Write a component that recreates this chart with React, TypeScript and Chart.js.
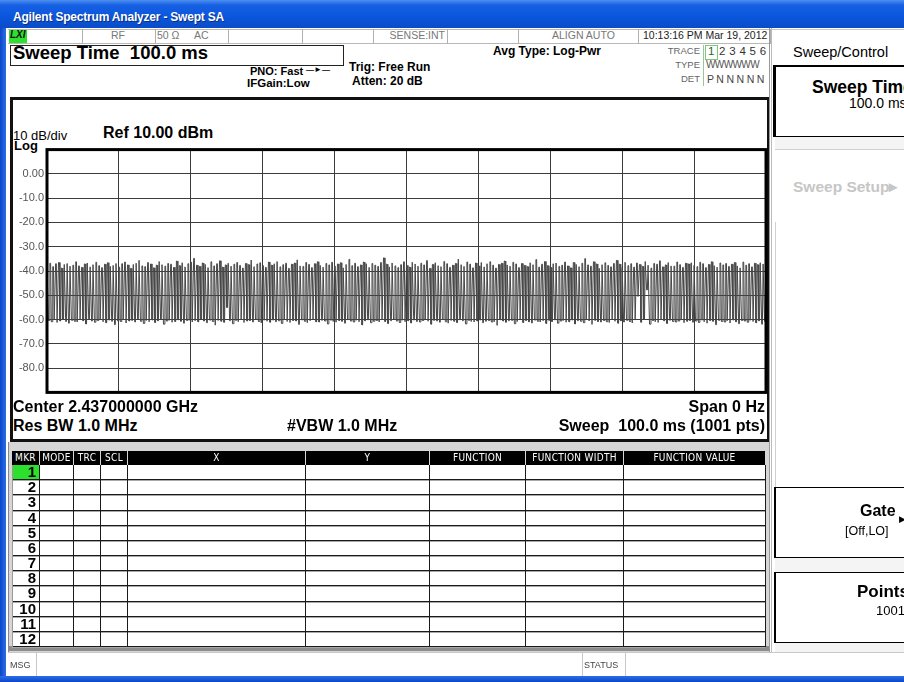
import React, { useEffect, useRef } from 'react';
import { Chart, registerables } from 'chart.js';

Chart.register(...registerables);

// ---------- data ----------
const REF_LEVEL = 10; // dBm, top of graticule
const DB_PER_DIV = 10;
const DIVISIONS = 10;
const SWEEP_POINTS = 1001;

// top of each burst, dBm (about 250 bursts across the 100 ms sweep)
const burstPeaks = [
  -37.5,-36.8,-38.2,-37.0,-36.5,-38.8,-37.3,-36.9,-38.0,-37.6,-36.2,-37.9,-38.5,-37.1,-36.7,-38.3,-37.4,-36.4,-37.8,-38.6,-37.2,-36.6,-38.1,-37.7,-36.9,
  -38.4,-37.0,-36.3,-37.5,-38.9,-37.3,-36.8,-35.6,-37.9,-38.2,-36.5,-37.1,-38.7,-37.6,-36.1,-37.4,-38.0,-36.9,-37.2,-38.5,-35.9,-37.8,-36.6,-38.3,-37.0,
  -36.4,-34.8,-37.6,-38.1,-36.7,-37.3,-38.6,-36.2,-37.9,-37.0,-35.8,-38.4,-37.5,-36.8,-38.0,-37.2,-36.5,-37.7,-38.8,-36.9,-37.4,-35.5,-38.2,-37.1,-36.6,
  -37.8,-38.5,-36.3,-37.6,-37.0,-36.1,-38.3,-37.4,-36.8,-38.9,-37.2,-36.7,-35.4,-37.9,-38.1,-36.5,-37.3,-38.6,-37.0,-36.2,-37.7,-38.4,-36.9,-37.5,-36.4,
  -38.0,-37.1,-36.6,-38.7,-37.3,-35.2,-37.8,-36.8,-38.2,-37.5,-36.3,-37.0,-38.5,-36.9,-37.6,-38.1,-36.5,-34.6,-37.2,-38.3,-36.7,-37.9,-38.6,-37.4,-36.2,
  -37.7,-38.4,-36.4,-37.1,-38.0,-36.8,-37.5,-35.7,-38.9,-37.3,-36.6,-37.8,-38.2,-36.1,-37.0,-38.5,-37.6,-36.9,-35.1,-37.4,-38.1,-36.3,-37.2,-38.7,-36.7,
  -37.9,-36.5,-38.3,-37.0,-36.2,-37.6,-38.8,-37.3,-36.8,-35.9,-37.5,-38.0,-36.4,-37.1,-38.6,-36.9,-37.7,-38.2,-36.6,-37.4,-35.3,-38.4,-37.2,-36.1,-37.8,
  -38.5,-37.0,-36.7,-38.1,-37.6,-36.3,-37.9,-38.7,-36.5,-37.3,-38.2,-36.8,-34.9,-37.5,-38.0,-36.2,-37.1,-38.9,-37.4,-36.6,-37.7,-38.3,-36.9,-35.6,-37.2,
  -38.6,-36.4,-37.8,-37.0,-38.4,-36.7,-37.3,-38.1,-36.1,-37.6,-38.8,-36.9,-37.2,-35.8,-38.3,-37.5,-36.5,-37.9,-38.0,-36.3,-37.4,-38.5,-36.8,-37.1,-36.6,
  -37.7,-38.2,-36.4,-37.0,-38.6,-37.3,-36.2,-37.8,-38.4,-36.7,-37.5,-36.9,-38.1,-37.2,-36.5,-37.9,-38.7,-36.3,-37.6,-37.0,-38.3,-36.8,-37.4,-36.6,-37.1,
];

// floor between bursts, dBm
const gapFloors = [
  -60.4,-60.9,-60.1,-61.2,-60.6,-59.9,-60.8,-61.5,-60.3,-60.7,-61.0,-60.2,-60.5,-61.8,-60.0,-60.6,-61.1,-60.4,-59.8,-60.9,-61.3,-60.2,-60.7,-62.1,-60.5,
  -60.8,-60.1,-61.4,-60.6,-60.3,-61.0,-59.9,-60.7,-61.6,-60.4,-60.9,-60.2,-61.2,-60.5,-60.0,-61.9,-60.6,-60.3,-61.1,-60.8,-60.1,-60.7,-61.5,-60.4,-60.2,
  -61.0,-60.5,-60.9,-59.8,-60.6,-61.3,-60.2,-60.8,-62.3,-60.4,-60.7,-61.1,-55.0,-60.5,-61.7,-60.3,-60.9,-60.1,-61.2,-60.6,-60.4,-61.0,-59.9,-60.8,-61.4,
  -60.3,-60.7,-61.1,-60.2,-60.9,-60.5,-61.6,-60.0,-60.8,-61.2,-60.4,-60.6,-62.0,-60.1,-60.7,-61.3,-60.5,-59.8,-60.9,-61.0,-60.3,-60.6,-61.8,-60.2,-60.8,
  -61.1,-60.4,-60.7,-61.5,-60.0,-60.6,-61.0,-60.3,-60.9,-62.2,-60.5,-60.1,-61.3,-60.7,-60.4,-61.0,-60.2,-60.8,-61.6,-60.5,-59.9,-60.6,-61.2,-60.3,-60.9,
  -60.5,-61.4,-60.2,-60.8,-61.0,-60.4,-59.8,-60.7,-61.9,-60.3,-60.6,-61.1,-60.0,-60.9,-61.5,-60.4,-60.7,-61.2,-60.1,-60.5,-61.8,-60.3,-60.8,-61.0,-60.6,
  -60.2,-61.3,-60.7,-60.4,-61.0,-60.9,-62.4,-60.1,-60.6,-61.1,-60.5,-60.3,-61.7,-60.8,-60.0,-61.2,-60.4,-60.9,-61.4,-60.2,-60.7,-61.0,-60.5,-61.6,-60.3,
  -60.8,-60.1,-61.5,-60.6,-60.4,-61.1,-60.9,-60.2,-61.8,-60.5,-60.7,-61.3,-60.0,-60.6,-62.0,-60.3,-60.8,-61.0,-60.4,-60.9,-61.2,-60.1,-60.7,-61.5,-60.5,
  -61.0,-60.3,-60.8,-61.4,-60.2,-50.5,-61.1,-59.9,-47.8,-61.9,-60.4,-60.9,-61.2,-60.1,-60.5,-61.6,-60.3,-60.8,-61.0,-60.6,-60.2,-61.3,-60.7,-60.4,-61.1,
  -60.6,-61.2,-60.1,-60.9,-61.5,-60.4,-60.7,-62.1,-60.3,-60.8,-61.0,-60.5,-61.4,-60.2,-60.9,-61.7,-60.4,-60.6,-61.1,-60.3,-60.8,-61.3,-60.5,-61.9,-60.7,
];

// y-axis labels from the top graticule line (+10 dBm) down to the bottom (-90 dBm)
const yTickLabels = ['', '0.00', '-10.0', '-20.0', '-30.0', '-40.0', '-50.0', '-60.0', '-70.0', '-80.0', ''];

const markerColumns = ['MKR', 'MODE', 'TRC', 'SCL', 'X', 'Y', 'FUNCTION', 'FUNCTION WIDTH', 'FUNCTION VALUE'];
const markerNumbers = [1, 2, 3, 4, 5, 6, 7, 8, 9, 10, 11, 12];
const statusCells = ['', 'RF', '50 Ω     AC', '', '', 'SENSE:INT', '', 'ALIGN AUTO', '10:13:16 PM Mar 19, 2012'];

// ---------- layout constants ----------
const colEdges = [12, 39, 73, 100, 127, 305, 429, 525, 623, 765];
const stripEdges = [8, 82, 155, 228, 302, 373, 447, 518, 638, 770];

const FONT = '"Liberation Sans", Arial, sans-serif';
const NARROW = '"Liberation Sans Narrow", "DejaVu Sans Condensed", "Liberation Sans", sans-serif';

function buildTrace() {
  const pts: { x: number; y: number }[] = [];
  for (let i = 0; i < burstPeaks.length; i++) {
    const base = i * 4;
    pts.push({ x: base, y: burstPeaks[i] });
    pts.push({ x: base + 1, y: burstPeaks[i] });
    pts.push({ x: base + 2, y: gapFloors[i] });
    pts.push({ x: base + 3, y: gapFloors[i] });
  }
  pts.push({ x: SWEEP_POINTS - 1, y: gapFloors[gapFloors.length - 1] });
  return pts;
}

function T(props: { x: number; y: number; s?: number; b?: boolean; c?: string; f?: string; children: React.ReactNode; st?: React.CSSProperties }) {
  const s = props.s ?? 12;
  return (
    <div
      style={{
        position: 'absolute',
        left: props.x,
        top: props.y - s * 0.58,
        fontSize: s,
        lineHeight: `${s}px`,
        fontWeight: props.b ? 'bold' : 'normal',
        color: props.c ?? '#000',
        fontFamily: props.f ?? FONT,
        whiteSpace: 'pre',
        ...props.st,
      }}
    >
      {props.children}
    </div>
  );
}

function TR(props: { r: number; y: number; s?: number; b?: boolean; c?: string; children: React.ReactNode }) {
  const s = props.s ?? 12;
  return (
    <div
      style={{
        position: 'absolute',
        right: 904 - props.r,
        top: props.y - s * 0.58,
        fontSize: s,
        lineHeight: `${s}px`,
        fontWeight: props.b ? 'bold' : 'normal',
        color: props.c ?? '#000',
        fontFamily: FONT,
        whiteSpace: 'pre',
      }}
    >
      {props.children}
    </div>
  );
}

function Box(props: { x: number; y: number; w: number; h: number; st?: React.CSSProperties; children?: React.ReactNode }) {
  return (
    <div style={{ position: 'absolute', left: props.x, top: props.y, width: props.w, height: props.h, boxSizing: 'border-box', ...props.st }}>
      {props.children}
    </div>
  );
}

function TraceChart() {
  const ref = useRef<HTMLCanvasElement | null>(null);
  useEffect(() => {
    if (!ref.current) return;
    const framePlugin = {
      id: 'frame',
      afterDraw(chart: any) {
        const { ctx, chartArea } = chart;
        ctx.save();
        ctx.strokeStyle = '#000';
        ctx.lineWidth = 3;
        ctx.strokeRect(chartArea.left, chartArea.top, chartArea.right - chartArea.left, chartArea.bottom - chartArea.top);
        ctx.restore();
      },
    };
    const chart = new Chart(ref.current, {
      type: 'line',
      data: {
        datasets: [
          {
            data: buildTrace(),
            borderColor: '#474747',
            borderWidth: 1,
            pointRadius: 0,
            tension: 0,
            fill: false,
          },
        ],
      },
      options: {
        animation: false,
        responsive: false,
        events: [],
        layout: { padding: { top: 6, bottom: 6, left: 0, right: 5 } },
        plugins: { legend: { display: false }, tooltip: { enabled: false } },
        scales: {
          x: {
            type: 'linear',
            min: 0,
            max: SWEEP_POINTS - 1,
            ticks: { display: false, stepSize: (SWEEP_POINTS - 1) / DIVISIONS },
            grid: { color: '#3c3c3c', lineWidth: 1, drawTicks: false },
            border: { display: false },
            afterFit(scale: any) { scale.height = 0; },
          },
          y: {
            type: 'linear',
            min: REF_LEVEL - DB_PER_DIV * DIVISIONS,
            max: REF_LEVEL,
            ticks: {
              stepSize: DB_PER_DIV,
              color: '#555',
              padding: 3,
              font: { family: '"Liberation Sans", Arial, sans-serif', size: 11 },
              callback: (v: any) => yTickLabels[Math.round((REF_LEVEL - Number(v)) / DB_PER_DIV)] ?? '',
            },
            grid: { color: '#3c3c3c', lineWidth: 1, drawTicks: false },
            border: { display: false },
            afterFit(scale: any) { scale.width = 38; },
          },
        },
      },
      plugins: [framePlugin],
    } as any);
    return () => chart.destroy();
  }, []);
  return (
    <div style={{ position: 'absolute', left: 9, top: 140, width: 762, height: 262 }}>
      <canvas ref={ref} width={762} height={262} style={{ display: 'block' }} />
    </div>
  );
}

export default function App() {
  const rowTop = (i: number) => Math.round(465 + i * 15.17);
  return (
    <div style={{ position: 'absolute', left: 0, top: 0, width: 904, height: 682, overflow: 'hidden', background: '#fff', fontFamily: FONT }}>
      {/* title bar */}
      <Box x={0} y={0} w={904} h={28} st={{ background: 'linear-gradient(#4d8ff0 0%, #1760e4 18%, #0a56dc 60%, #0b4cc8 100%)' }} />
      <T x={13} y={18} s={12} b c="#fff" st={{ textShadow: '1px 1px 0 #0a2e80', letterSpacing: '-0.2px' }}>Agilent Spectrum Analyzer - Swept SA</T>
      {/* window frame */}
      <Box x={0} y={28} w={6} h={654} st={{ background: 'linear-gradient(90deg,#0a46c8,#2c6ee8)' }} />
      <Box x={0} y={676} w={904} h={6} st={{ background: 'linear-gradient(#2c6ee8,#0a46c8)' }} />

      {/* status strip */}
      <Box x={8} y={29} w={762} h={15} st={{ borderTop: '1px solid #b8b8b8', borderBottom: '1px solid #b8b8b8', background: '#fff' }} />
      {stripEdges.slice(1).map((e, i) => (
        <Box key={'se' + i} x={e} y={29} w={1} h={15} st={{ background: '#b0b0b0' }} />
      ))}
      <Box x={9} y={30} w={18} h={13} st={{ background: '#2ee02e' }} />
      <T x={10} y={36} s={10} b c="#111" st={{ fontStyle: 'italic' }}>LXI</T>
      <TR r={125} y={36} s={10.5} c="#777">{statusCells[1]}</TR>
      <T x={157} y={36} s={10.5} c="#777">{statusCells[2]}</T>
      <TR r={445} y={36} s={10.5} c="#777">{statusCells[5]}</TR>
      <T x={552} y={36} s={10.5} c="#777">{statusCells[7]}</T>
      <T x={643} y={36} s={10.5} c="#222">{statusCells[8]}</T>

      {/* info area */}
      <Box x={10} y={45} w={334} h={21} st={{ border: '1px solid #222' }} />
      <T x={13} y={55} s={18.5} b>Sweep Time  100.0 ms</T>
      <T x={250} y={72} s={11} b>PNO: Fast</T>
      <T x={306} y={71} s={8} b>—►—</T>
      <T x={247} y={85} s={11.5} b>IFGain:Low</T>
      <T x={349} y={68} s={12} b>Trig: Free Run</T>
      <T x={352} y={82} s={12} b>Atten: 20 dB</T>
      <T x={493} y={52} s={12} b>Avg Type: Log-Pwr</T>
      <TR r={700} y={52} s={9.5} c="#666">TRACE</TR>
      <TR r={700} y={66} s={9.5} c="#666">TYPE</TR>
      <TR r={700} y={80} s={9.5} c="#666">DET</TR>
      <Box x={703} y={45} w={1} h={41} st={{ background: '#9ac49a' }} />
      <Box x={705} y={45} w={13} h={15} st={{ border: '1px solid #7cc87c' }} />
      <T x={708} y={53} s={11.5} c="#1a6a1a">1</T>
      <T x={719} y={53} s={11.5} c="#333" st={{ letterSpacing: '0.3px' }}>2 3 4 5 6</T>
      <T x={706} y={66} s={10} c="#555" st={{ letterSpacing: '-0.6px' }}>WWWWWW</T>
      <T x={707} y={80} s={10.5} c="#444" st={{ letterSpacing: '-0.2px' }}>P N N N N N</T>

      {/* chart panel */}
      <Box x={10} y={97} w={760} h={345} st={{ border: '3px solid #111' }} />
      <T x={13} y={137} s={13}>10 dB/div</T>
      <T x={103} y={134} s={16} b>Ref 10.00 dBm</T>
      <T x={14} y={147} s={13} b>Log</T>
      <TraceChart />
      <T x={13} y={408} s={16} b>Center 2.437000000 GHz</T>
      <TR r={765} y={408} s={16} b>Span 0 Hz</TR>
      <T x={13} y={427} s={16} b>Res BW 1.0 MHz</T>
      <T x={287} y={427} s={16} b>#VBW 1.0 MHz</T>
      <TR r={765} y={427} s={16} b>Sweep  100.0 ms (1001 pts)</TR>

      {/* marker table frame */}
      <Box x={8} y={442} w={762} h={211} st={{ background: '#d6d6d6', borderLeft: '1px solid #888', borderRight: '1px solid #888' }} />
      <Box x={8} y={646} w={762} h={5} st={{ background: '#8c8c8c' }} />
      <Box x={12} y={465} w={753} h={182} st={{ background: '#fff' }} />
      {/* header */}
      {markerColumns.map((c, i) => (
        <div
          key={'h' + i}
          style={{
            position: 'absolute',
            left: colEdges[i] + (i === 0 ? 0 : 1),
            top: 451,
            width: colEdges[i + 1] - colEdges[i] - (i === 0 ? 0 : 1),
            height: 14,
            background: '#000',
            color: '#fff',
            fontFamily: NARROW,
            fontSize: 10,
            lineHeight: '14px',
            textAlign: 'center',
            letterSpacing: '0.3px',
          }}
        >
          {c}
        </div>
      ))}
      {/* body grid */}
      {markerNumbers.map((n, i) => (
        <Box key={'r' + i} x={12} y={rowTop(i + 1) - 1} w={753} h={1} st={{ background: '#1a1a1a', boxShadow: '0 1px 0 #a8a8a8' }} />
      ))}
      {colEdges.map((e, i) => (
        <Box key={'v' + i} x={e} y={465} w={1} h={182} st={{ background: i === 0 ? '#999' : '#1a1a1a' }} />
      ))}
      <Box x={13} y={465} w={26} h={14} st={{ background: '#2ee02e' }} />
      {markerNumbers.map((n, i) => (
        <TR key={'n' + i} r={36} y={rowTop(i) + 8} s={15} b>{String(n)}</TR>
      ))}

      {/* message bar */}
      <Box x={8} y={652} w={762} h={24} st={{ borderTop: '1px solid #c8c8c8', background: '#fff' }} />
      <Box x={36} y={652} w={1} h={24} st={{ background: '#c8c8c8' }} />
      <T x={10} y={666} s={9} c="#444">MSG</T>
      <Box x={582} y={652} w={1} h={24} st={{ background: '#c8c8c8' }} />
      <Box x={625} y={652} w={1} h={24} st={{ background: '#c8c8c8' }} />
      <T x={584} y={666} s={9} c="#444">STATUS</T>
      <Box x={626} y={652} w={278} h={24} st={{ borderTop: '1px solid #c8c8c8' }} />

      {/* right softkey panel */}
      <Box x={769} y={28} w={3} h={624} st={{ borderLeft: '1px solid #999', borderRight: '1px solid #bbb' }} />
      <Box x={772} y={29} w={132} h={37} st={{ borderTop: '1px solid #c8c8c8' }} />
      <T x={793} y={53} s={14.5}>Sweep/Control</T>
      <Box x={773} y={65} w={140} h={72} st={{ borderTop: '2px solid #000', borderLeft: '3px solid #000', borderBottom: '1px solid #000' }} />
      <T x={812} y={89} s={17.5} b>Sweep Time</T>
      <T x={849} y={104} s={14}>100.0 ms</T>
      <Box x={775} y={137} w={129} h={12} st={{ background: '#f4f4f4' }} />
      <Box x={775} y={149} w={129} h={1} st={{ background: '#cfcfcf' }} />
      <T x={793} y={188} s={15.5} b c="#c6c6c6">Sweep Setup▸</T>
      <Box x={775} y={222} w={1} h={265} st={{ background: '#d0d0d0' }} />
      <Box x={774} y={487} w={140} h={71} st={{ borderTop: '1px solid #000', borderLeft: '2px solid #000', borderBottom: '1px solid #000' }} />
      <T x={860} y={512} s={16} b>Gate</T>
      <T x={899} y={520} s={9}>▶</T>
      <T x={845} y={532} s={12.5}>[Off,LO]</T>
      <Box x={775} y={558} w={129} h={14} st={{ background: '#f4f4f4' }} />
      <Box x={774} y={572} w={140} h={71} st={{ borderTop: '1px solid #000', borderLeft: '2px solid #000', borderBottom: '1px solid #000' }} />
      <T x={857} y={593} s={17} b>Points</T>
      <T x={876} y={612} s={13}>1001</T>
      <Box x={775} y={643} w={129} h={9} st={{ background: '#f4f4f4' }} />
    </div>
  );
}
